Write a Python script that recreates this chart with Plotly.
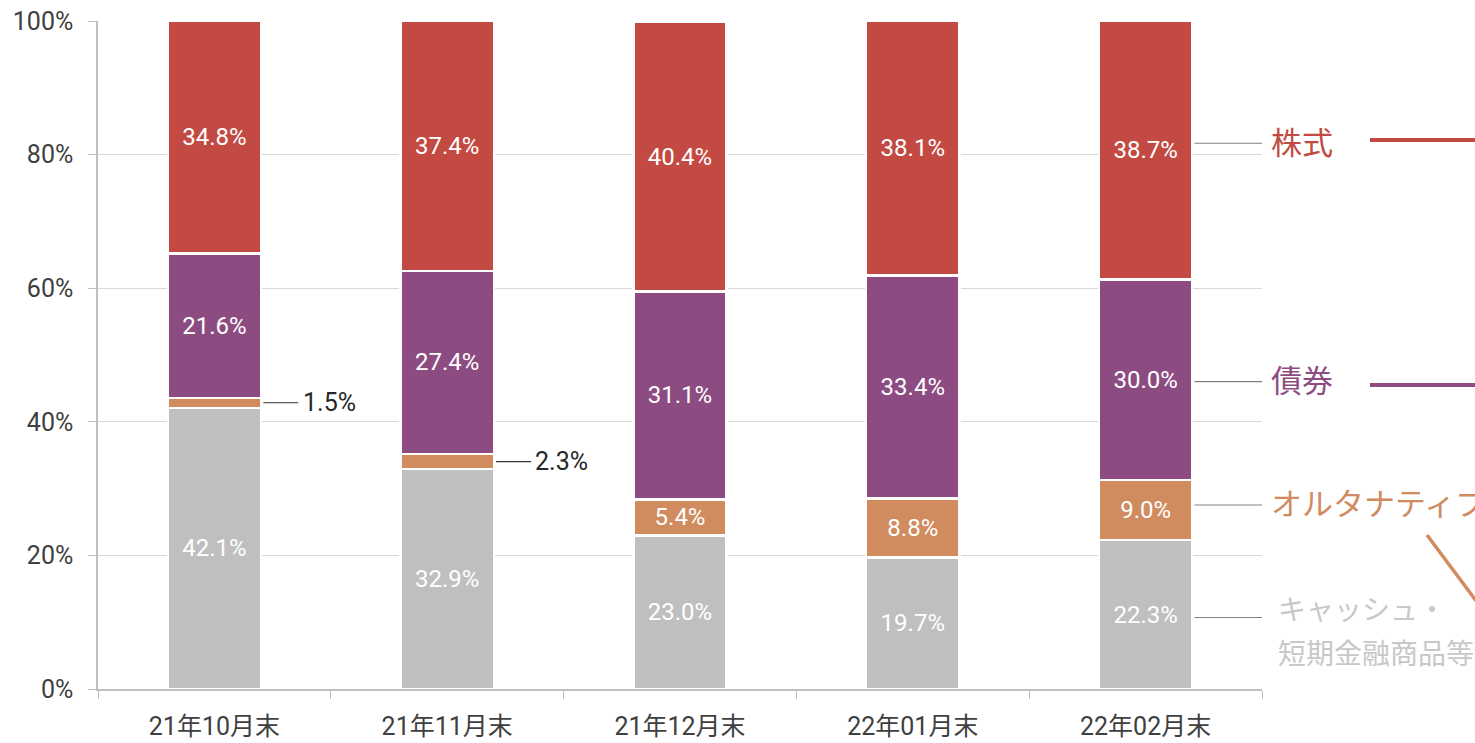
import plotly.graph_objects as go

categories = ["21年10月末", "21年11月末", "21年12月末", "22年01月末", "22年02月末"]
cash = [42.1, 32.9, 23.0, 19.7, 22.3]
alternative = [1.5, 2.3, 5.4, 8.8, 9.0]
bonds = [21.6, 27.4, 31.1, 33.4, 30.0]
equity = [34.8, 37.4, 40.4, 38.1, 38.7]

series_names = ["キャッシュ・短期金融商品等", "オルタナティブ", "債券", "株式"]
label_lines = [["キャッシュ・", "短期金融商品等"], ["オルタナティブ"], ["債券"], ["株式"]]
series_values = [cash, alternative, bonds, equity]
series_colors = ["#BFBFBF", "#D08B5F", "#8C4C82", "#C24A42"]
label_colors = ["#C8C8C8", "#D08B5F", "#8C4C82", "#C24A42"]
label_yshift = [-3, 5, -2, 7]

FONT = "Roboto, Liberation Sans, Noto Sans CJK JP"
JFONT = "Noto Sans CJK JP"
BAR_FRAC = 0.40
HALF = BAR_FRAC / 2

fig = go.Figure()
for name, vals, col in zip(series_names, series_values, series_colors):
    txt = [f"{v:.1f}%" if v >= 4 else "" for v in vals]
    fig.add_trace(go.Bar(
        x=categories, y=vals, name=name,
        marker=dict(color=col, line=dict(color="#ffffff", width=2.5)),
        text=txt, textposition="inside", insidetextanchor="middle",
        textangle=0, textfont=dict(color="white", size=24, family=FONT),
        hoverinfo="skip",
    ))

annotations = []
shapes = []

base = [0.0] * len(categories)
mids = []
for vals in series_values:
    m = [b + v / 2 for b, v in zip(base, vals)]
    mids.append(m)
    base = [b + v for b, v in zip(base, vals)]

# small labels with leader lines
for i, v in enumerate(alternative):
    if v < 4:
        y = mids[1][i]
        shapes.append(dict(type="line", xref="x", yref="y",
                           x0=i + HALF + 0.01, x1=i + HALF + 0.16, y0=y, y1=y,
                           line=dict(color="#333333", width=1.2)))
        annotations.append(dict(xref="x", yref="y", x=i + HALF + 0.17, y=y,
                                text=f"{v:.1f}%", showarrow=False, xanchor="left",
                                yanchor="middle",
                                font=dict(size=25, color="#262626", family=FONT)))

# right-side series labels
last = len(categories) - 1
for k, (lines, col) in enumerate(zip(label_lines, label_colors)):
    y = mids[k][last]
    ys = label_yshift[k]
    shapes.append(dict(type="line", xref="x", yref="y",
                       x0=last + HALF + 0.01, x1=last + 0.5,
                       y0=y + ys * 100 / 668, y1=y + ys * 100 / 668,
                       line=dict(color="#808080", width=1.2)))
    if len(lines) == 1:
        annotations.append(dict(xref="paper", yref="y", x=1.006, y=y,
                                text=lines[0], showarrow=False, xanchor="left",
                                yanchor="middle", align="left", yshift=3 + ys,
                                font=dict(size=31, color=col, family=JFONT)))
    else:
        for j, line in enumerate(lines):
            annotations.append(dict(xref="paper", yref="y", x=1.012, y=y,
                                    text=line, showarrow=False, xanchor="left",
                                    yanchor="middle", align="left",
                                    yshift=7 - 44 * j,
                                    font=dict(size=28, color=col, family=JFONT)))

# decorative legend strokes cut by the edge of the image
def px_x(px):
    return (px - 98) / (1475 - 98 - 213)

def px_y(py):
    return (689 - py) / (689 - 21)

shapes.append(dict(type="line", xref="paper", yref="paper",
                   x0=px_x(1370), x1=px_x(1480), y0=px_y(140), y1=px_y(140),
                   line=dict(color=series_colors[3], width=4)))
shapes.append(dict(type="line", xref="paper", yref="paper",
                   x0=px_x(1370), x1=px_x(1480), y0=px_y(385), y1=px_y(385),
                   line=dict(color=series_colors[2], width=4)))
shapes.append(dict(type="line", xref="paper", yref="paper",
                   x0=px_x(1427), x1=px_x(1480), y0=px_y(535), y1=px_y(606),
                   line=dict(color=series_colors[1], width=3.5)))

fig.update_layout(
    barmode="stack",
    bargap=1 - BAR_FRAC,
    width=1475, height=743,
    margin=dict(l=98, r=213, t=21, b=54),
    plot_bgcolor="white", paper_bgcolor="white",
    showlegend=False,
    annotations=annotations,
    shapes=shapes,
    font=dict(family=FONT, color="#404040"),
    uniformtext=dict(mode="show", minsize=10),
)
fig.update_yaxes(range=[0, 100], dtick=20, ticksuffix="%",
                 showline=True, linecolor="#BFBFBF", linewidth=1.5,
                 ticks="outside", ticklen=8, tickcolor="#BFBFBF",
                 gridcolor="#D9D9D9", gridwidth=1,
                 ticklabelstandoff=10, automargin=False,
                 tickfont=dict(size=25, color="#404040", family=FONT),
                 zeroline=False)
fig.update_xaxes(showline=True, linecolor="#BFBFBF", linewidth=1.5,
                 ticks="outside", ticklen=8, tickcolor="#BFBFBF",
                 tickson="boundaries", ticklabelstandoff=14, automargin=False,
                 tickfont=dict(size=25, color="#404040", family=FONT),
                 range=[-0.5, 4.5])

fig.write_html("out.html", config={"displayModeBar": False},
               post_script="document.body.style.margin='0px';")
